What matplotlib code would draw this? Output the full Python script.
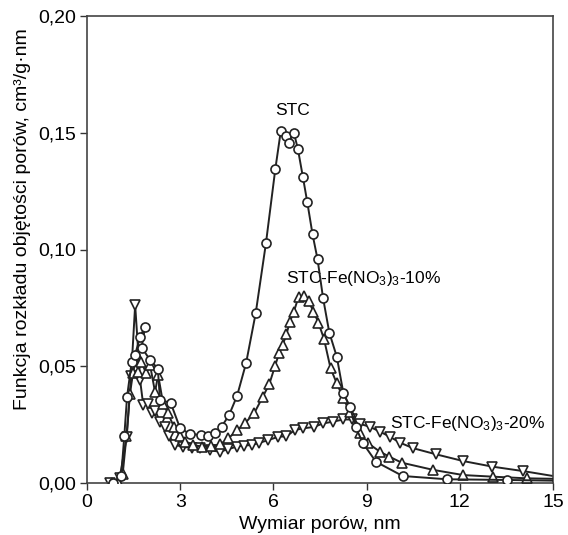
import matplotlib
matplotlib.use('Agg')
import matplotlib.pyplot as plt
import numpy as np

plt.rcParams['font.family'] = ['Liberation Sans', 'DejaVu Sans']
plt.rcParams['mathtext.fontset'] = 'custom'
plt.rcParams['mathtext.rm'] = 'Liberation Sans'
plt.rcParams['mathtext.it'] = 'Liberation Sans'
plt.rcParams['mathtext.default'] = 'regular'

# STC (circles)
stc_x = [0.85, 1.1, 1.2, 1.29, 1.44, 1.55, 1.71, 1.87, 1.76, 2.03, 2.28, 2.35, 2.69, 2.99, 3.3, 3.67,
         3.9, 4.12, 4.33, 4.57, 4.83, 5.12, 5.43, 5.76, 6.06, 6.24, 6.39, 6.49, 6.66, 6.79, 6.95,
         7.09, 7.26, 7.42, 7.60, 7.80, 8.04, 8.25, 8.46, 8.65, 8.87, 9.30, 10.16, 11.58, 13.53, 15.0]
stc_y = [0.0, 0.003, 0.02, 0.037, 0.052, 0.055, 0.0627, 0.067, 0.058, 0.0527, 0.049, 0.0355, 0.0344,
         0.0237, 0.021, 0.0206, 0.0201, 0.0214, 0.0241, 0.029, 0.0373, 0.0513, 0.0727, 0.1027, 0.1343,
         0.1509, 0.1486, 0.1457, 0.150, 0.1429, 0.131, 0.1203, 0.1065, 0.0959, 0.0791, 0.0644, 0.0541,
         0.0387, 0.0327, 0.024, 0.0173, 0.0091, 0.003, 0.0016, 0.0013, 0.001]

# STC-Fe(NO3)3-10% (triangles up)
fe10_x = [0.8, 1.0, 1.15, 1.27, 1.38, 1.48, 1.6, 1.65, 1.75, 1.9, 2.03, 2.19, 2.29, 2.45, 2.6, 2.8,
          3.0, 3.15, 3.42, 3.69, 4.0, 4.28, 4.55, 4.84, 5.1, 5.39, 5.65, 5.87, 6.05, 6.19, 6.3, 6.42,
          6.53, 6.66, 6.81, 6.99, 7.13, 7.29, 7.45, 7.63, 7.84, 8.04, 8.25, 8.46, 8.79, 9.05, 9.43,
          9.73, 10.13, 11.15, 12.11, 13.08, 14.15, 15.0]
fe10_y = [0.0, 0.0005, 0.004, 0.020, 0.038, 0.047, 0.0548, 0.0477, 0.052, 0.047, 0.0505, 0.039,
          0.0463, 0.034, 0.030, 0.024, 0.020, 0.0177, 0.0163, 0.0156, 0.016, 0.0165, 0.0191, 0.0227,
          0.0258, 0.0301, 0.0367, 0.0424, 0.050, 0.0558, 0.0591, 0.0637, 0.0691, 0.0734, 0.0798,
          0.080, 0.078, 0.0734, 0.0687, 0.0616, 0.0491, 0.0427, 0.0363, 0.0305, 0.0212, 0.017,
          0.0134, 0.0113, 0.0087, 0.0056, 0.0034, 0.0027, 0.002, 0.0018]

# STC-Fe(NO3)3-20% (triangles down)
fe20_x = [0.75, 1.05, 1.28, 1.42, 1.55, 1.71, 1.81, 1.95, 2.08, 2.2, 2.35, 2.5, 2.65, 2.83, 3.1,
          3.37, 3.64, 3.96, 4.28, 4.55, 4.82, 5.05, 5.3, 5.55, 5.84, 6.16, 6.42, 6.69, 6.96, 7.3,
          7.6, 7.93, 8.25, 8.52, 8.79, 9.1, 9.43, 9.75, 10.07, 10.5, 11.23, 12.11, 13.05, 14.04, 15.0]
fe20_y = [0.0, 0.002, 0.0198, 0.046, 0.0762, 0.044, 0.0334, 0.034, 0.030, 0.031, 0.026, 0.024,
          0.020, 0.0163, 0.0155, 0.015, 0.015, 0.014, 0.0134, 0.0145, 0.0156, 0.016, 0.0163, 0.0172,
          0.0184, 0.0198, 0.020, 0.0227, 0.0234, 0.024, 0.0255, 0.0263, 0.0272, 0.0272, 0.0253,
          0.0241, 0.022, 0.0198, 0.0173, 0.0149, 0.0123, 0.0094, 0.007, 0.0051, 0.003]

labels = ['STC', 'STC-Fe(NO$_3$)$_3$-10%', 'STC-Fe(NO$_3$)$_3$-20%']

fig = plt.figure(figsize=(5.68, 5.35), dpi=100)
ax = fig.add_axes([87/568, 52/535, 466/568, 467/535])

lc = '#222222'
style = dict(color=lc, lw=1.4, mfc='white', mec=lc, mew=1.2, clip_on=True)
ax.plot(fe20_x, fe20_y, marker='v', ms=7.5, markevery=slice(0, -1), zorder=2, **style)
ax.plot(fe10_x, fe10_y, marker='^', ms=7.5, markevery=slice(0, -1), zorder=3, **style)
ax.plot(stc_x, stc_y, marker='o', ms=6.5, markevery=slice(0, -1), zorder=4, **style)

ax.text(6.05, 0.1565, labels[0], fontsize=12.5, ha='left', va='bottom')
ax.text(6.4, 0.0875, labels[1], fontsize=12.5, ha='left', va='center', zorder=1)
ax.text(9.75, 0.0255, labels[2], fontsize=12.5, ha='left', va='center')

ax.set_xlim(0, 15)
ax.set_ylim(0, 0.20)
ax.set_xticks([0, 3, 6, 9, 12, 15])
ax.set_yticks([0, 0.05, 0.10, 0.15, 0.20])
ax.set_yticklabels(['0,00', '0,05', '0,10', '0,15', '0,20'])
ax.tick_params(direction='out', length=5, width=1.0, labelsize=14, colors='#333333',
               labelcolor='black', pad=3)
for s in ax.spines.values():
    s.set_color('#444444')
    s.set_linewidth(1.2)

ax.set_xlabel('Wymiar porów, nm', fontsize=14, va='bottom')
ax.set_ylabel('Funkcja rozkładu objętości porów, cm³/g·nm', fontsize=14, va='center')
ax.xaxis.set_label_coords(0.5, -0.108)
ax.yaxis.set_label_coords(-0.138, 0.566)

fig.savefig('out.png', dpi=100)
